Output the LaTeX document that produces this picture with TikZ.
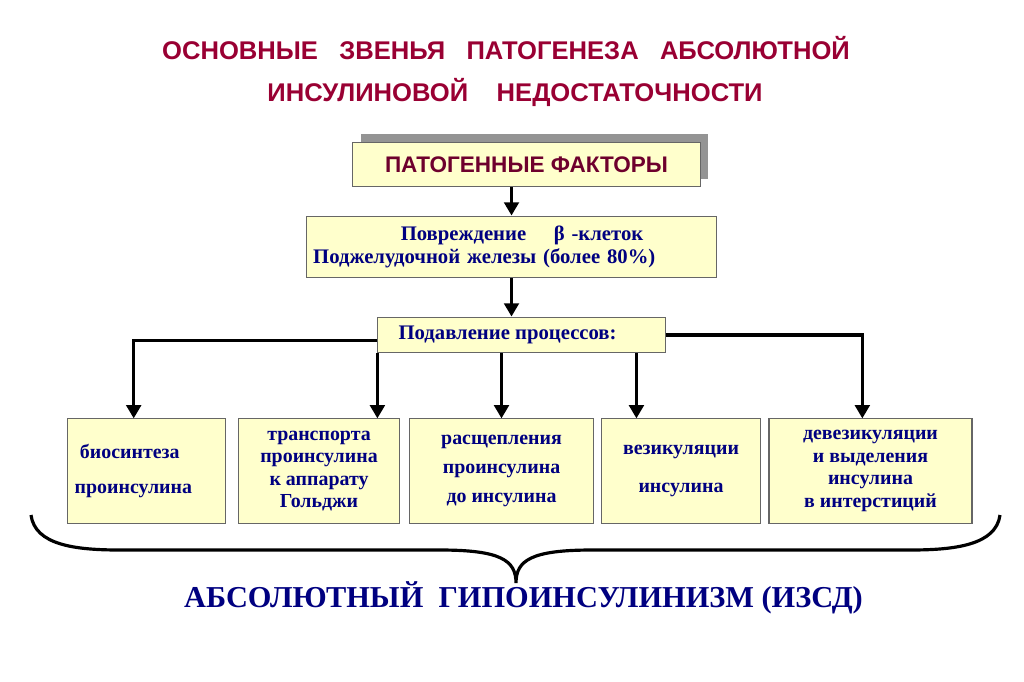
\documentclass[tikz,border=0pt]{standalone}
\usepackage{fontspec}
\setmainfont{Liberation Serif}
\newfontfamily\headfont{Liberation Sans}
\usetikzlibrary{arrows.meta,calc,shadows}
\definecolor{titlered}{RGB}{153,0,51}
\definecolor{factred}{RGB}{110,0,45}
\definecolor{boxfill}{RGB}{255,255,204}
\definecolor{textblue}{RGB}{0,0,128}
\begin{document}
\begin{tikzpicture}[x=0.0265cm, y=-0.0265cm,
	title/.style={text=titlered, font=\headfont\bfseries\fontsize{19.3}{22}\selectfont},
	box/.style={draw=black!60, line width=0.8pt, fill=boxfill, text=textblue, inner sep=0pt, align=center, font=\bfseries\fontsize{15}{17}\selectfont},
	arr/.style={line width=2.4pt, -{Triangle[width=11pt,length=10pt]}}]
	\useasboundingbox (0,0) rectangle (1024,681);
	\node[title] (t1) at (506,48) {ОСНОВНЫЕ\ \ \ ЗВЕНЬЯ\ \ \ ПАТОГЕНЕЗА\ \ \ АБСОЛЮТНОЙ};
	\node[title] (t2) at (515,92) {ИНСУЛИНОВОЙ\ \ \ \ НЕДОСТАТОЧНОСТИ};
	\node[box, minimum width=9.2cm, minimum height=1.19cm, text=factred, font=\headfont\bfseries\fontsize{17}{19}\selectfont,
		general shadow={fill=black!42, shadow xshift=0.21cm, shadow yshift=0.21cm}] (fac) at (526.5,164.5) {ПАТОГЕННЫЕ ФАКТОРЫ};
	\node[box, minimum height=1.64cm, text width=10.51cm, inner xsep=0.19cm, align=left, font=\bfseries\fontsize{15.6}{18}\selectfont] (dmg) at (511.5,247)
		{\hspace*{66pt}Повреждение\ \ \ \ β -клеток\\Поджелудочной\ железы\ (более 80\%)};
	\node[box, minimum width=7.61cm, minimum height=0.95cm, font=\bfseries\fontsize{15.6}{18}\selectfont] (sup) at (521.5,335) {\hspace*{-21pt}Подавление процессов:};
	\node[box, minimum height=2.76cm, text width=3.81cm, inner xsep=0.2cm, align=left] (A) at (146.5,471)
		{\hspace*{4pt}биосинтеза\\[10pt]проинсулина};
	\node[box, minimum width=4.29cm, minimum height=2.76cm] (B) at (319,471) {транспорта\\проинсулина\\к аппарату\\Гольджи};
	\node[box, minimum width=4.9cm, minimum height=2.76cm] (C) at (501.5,471) {расщепления\\[5pt]проинсулина\\[5pt]до инсулина};
	\node[box, minimum width=4.19cm, minimum height=2.76cm] (D) at (681,471) {везикуляции\\[11pt]инсулина};
	\node[box, minimum width=5.38cm, minimum height=2.76cm] (E) at (870.5,471) {девезикуляции\\и выделения\\инсулина\\в интерстиций};
	\node[text=textblue, font=\bfseries\fontsize{22.9}{26}\selectfont] (res) at (523.5,598) {АБСОЛЮТНЫЙ\ \ ГИПОИНСУЛИНИЗМ (ИЗСД)};
	\coordinate (a1) at ($(A.north west)!0.42!(A.north east)$);
	\coordinate (d1) at ($(D.north west)!0.22!(D.north east)$);
	\coordinate (e1) at ($(E.north west)!0.46!(E.north east)$);
	\draw[arr] (fac.south -| dmg.north) -- (dmg.north);
	\draw[arr] (dmg.south) -- (dmg.south |- sup.north);
	\draw[arr] ($(sup.north west)!0.64!(sup.south west)$) -| (a1);
	\draw[arr] (sup.south west) -- (sup.south west |- B.north);
	\draw[arr] (sup.south -| C.north) -- (C.north);
	\draw[arr] (sup.south -| d1) -- (d1);
	\draw[arr] (sup.east) -| (e1);
	% brace under the boxes
	\draw[line width=2.4pt] (31,515) .. controls (35,545) and (75,550) .. (120,550) -- (440,550)
		.. controls (500,550) and (516,560) .. (516,583) .. controls (516,560) and (532,550) .. (592,550)
		-- (910,550) .. controls (955,550) and (996,545) .. (1000,515);
\end{tikzpicture}
\end{document}
